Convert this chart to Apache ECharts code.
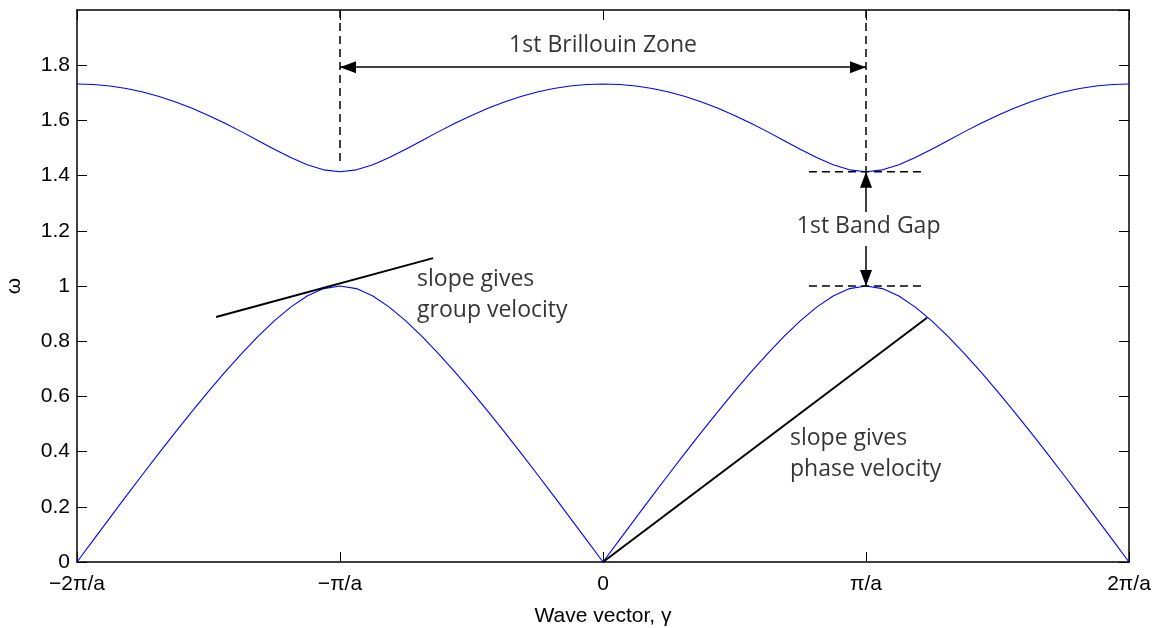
<!DOCTYPE html>
<html>
<head>
<meta charset="utf-8">
<title>Dispersion relation of a diatomic chain</title>
<script src="https://cdn.jsdelivr.net/npm/echarts@6/dist/echarts.min.js"></script>
<style>
  html, body { margin: 0; padding: 0; background: #ffffff; }
  #chart { width: 1161px; height: 628px; }
</style>
</head>
<body>
<div id="chart"></div>
<script>
// Wave vector samples, in units of pi/a
const waveVector = [
  -2, -1.9375, -1.875, -1.8125, -1.75, -1.6875, -1.625, -1.5625, -1.5, -1.4375, -1.375, -1.3125, -1.25, -1.1875, -1.125, -1.0625,
  -1, -0.9375, -0.875, -0.8125, -0.75, -0.6875, -0.625, -0.5625, -0.5, -0.4375, -0.375, -0.3125, -0.25, -0.1875, -0.125, -0.0625,
  0, 0.0625, 0.125, 0.1875, 0.25, 0.3125, 0.375, 0.4375, 0.5, 0.5625, 0.625, 0.6875, 0.75, 0.8125, 0.875, 0.9375,
  1, 1.0625, 1.125, 1.1875, 1.25, 1.3125, 1.375, 1.4375, 1.5, 1.5625, 1.625, 1.6875, 1.75, 1.8125, 1.875, 1.9375, 2
];

// Lower (acoustic) branch, omega
const acousticBranch = [
  0, 0.0801, 0.1600, 0.2393, 0.3179, 0.3953, 0.4714, 0.5458, 0.6180, 0.6877, 0.7541, 0.8165, 0.8736, 0.9236, 0.9638, 0.9905,
  1.0, 0.9905, 0.9638, 0.9236, 0.8736, 0.8165, 0.7541, 0.6877, 0.6180, 0.5458, 0.4714, 0.3953, 0.3179, 0.2393, 0.1600, 0.0801,
  0, 0.0801, 0.1600, 0.2393, 0.3179, 0.3953, 0.4714, 0.5458, 0.6180, 0.6877, 0.7541, 0.8165, 0.8736, 0.9236, 0.9638, 0.9905,
  1.0, 0.9905, 0.9638, 0.9236, 0.8736, 0.8165, 0.7541, 0.6877, 0.6180, 0.5458, 0.4714, 0.3953, 0.3179, 0.2393, 0.1600, 0.0801, 0
];

// Upper (optical) branch, omega
const opticalBranch = [
  1.7321, 1.7302, 1.7247, 1.7154, 1.7026, 1.6863, 1.6667, 1.6438, 1.6180, 1.5897, 1.5593, 1.5275, 1.4956, 1.4652, 1.4391, 1.4209,
  1.4142, 1.4209, 1.4391, 1.4652, 1.4956, 1.5275, 1.5593, 1.5897, 1.6180, 1.6438, 1.6667, 1.6863, 1.7026, 1.7154, 1.7247, 1.7302,
  1.7321, 1.7302, 1.7247, 1.7154, 1.7026, 1.6863, 1.6667, 1.6438, 1.6180, 1.5897, 1.5593, 1.5275, 1.4956, 1.4652, 1.4391, 1.4209,
  1.4142, 1.4209, 1.4391, 1.4652, 1.4956, 1.5275, 1.5593, 1.5897, 1.6180, 1.6438, 1.6667, 1.6863, 1.7026, 1.7154, 1.7247, 1.7302, 1.7321
];

// Wave-vector tick positions and their labels
const xTickValues = [-2, -1, 0, 1, 2];
const xTickLabels = ['\u22122\u03c0/a', '\u2212\u03c0/a', '0', '\u03c0/a', '2\u03c0/a'];

// Annotation geometry, in (k in pi/a, omega)
const zoneEdgeLeft = [[-1, 2], [-1, 1.45]];
const zoneEdgeRight = [[1, 2], [1, 1.414]];
const gapTopLevel = [[0.783, 1.414], [1.213, 1.414]];
const gapBottomLevel = [[0.783, 1.0], [1.213, 1.0]];
const groupTangent = [[-1.471, 0.888], [-0.646, 1.101]];
const phaseChord = [[0, 0], [1.232, 0.885]];
const zoneArrow = [[-1, 1.793], [1, 1.793]];
const gapArrowUp = [[1, 1.268], [1, 1.414]];
const gapArrowDown = [[1, 1.145], [1, 1.0]];

// Text annotations: [k, omega, text]
const zoneText = [0, 1.873, '1st Brillouin Zone'];
const gapText = [1.01, 1.214, '1st Band Gap'];
const groupText = [-0.707, 0.967, 'slope gives\ngroup velocity'];
const phaseText = [0.711, 0.391, 'slope gives\nphase velocity'];

const chart = echarts.init(document.getElementById('chart'), null, { renderer: 'canvas' });

const frameLine = { show: true, onZero: false, lineStyle: { color: '#000', width: 1.5 } };
const innerTick = { show: true, inside: true, length: 10, lineStyle: { color: '#000', width: 1 } };
const tickFont = { fontFamily: 'Liberation Sans', fontSize: 21, color: '#000' };
const noteStyle = { fontFamily: 'Open Sans', fontSize: 23, color: '#000', lineHeight: 31 };

function pairsToData(pts) { return pts.map(p => [p[0], p[1]]); }

function straight(pts, style) {
  return {
    type: 'line', data: pairsToData(pts), showSymbol: false, symbol: 'none',
    silent: true, animation: false, z: 3,
    lineStyle: Object.assign({ color: '#000', width: 2 }, style)
  };
}

function arrow(pts, both) {
  return {
    type: 'line', data: [], silent: true, animation: false, z: 4,
    markLine: {
      silent: true, animation: false,
      symbol: both ? ['triangle', 'triangle'] : ['none', 'triangle'],
      symbolSize: [12, 16],
      symbolOffset: [[0, 8], [0, 8]],
      label: { show: false },
      lineStyle: { color: '#000', width: 1.5, type: 'solid' },
      itemStyle: { color: '#000' },
      emphasis: { disabled: true },
      data: [[{ coord: pts[0] }, { coord: pts[1] }]]
    }
  };
}

function note(t, pos, align) {
  return {
    type: 'scatter', symbolSize: 0, silent: true, animation: false, z: 6,
    itemStyle: { color: '#000' },
    data: [[t[0], t[1]]],
    label: {
      show: true, position: pos, distance: 0, align: align,
      formatter: () => t[2].split('\n').map(s => '{n|' + s + '}').join('\n'),
      rich: { n: noteStyle }
    }
  };
}

const option = {
  backgroundColor: '#fff',
  animation: false,
  grid: { left: 77, right: 32, top: 10, bottom: 66, containLabel: false, outerBoundsMode: 'none' },
  xAxis: [
    {
      type: 'value', min: -2, max: 2, interval: 1, position: 'bottom',
      name: 'Wave vector, \u03b3', nameLocation: 'middle', nameGap: 44,
      nameTextStyle: { fontFamily: 'Liberation Sans', fontSize: 21, color: '#000' },
      axisLine: frameLine, axisTick: innerTick, splitLine: { show: false },
      axisLabel: Object.assign({
        margin: 12,
        formatter: v => { const i = xTickValues.indexOf(v); return i < 0 ? '' : xTickLabels[i]; }
      }, tickFont)
    },
    {
      type: 'value', min: -2, max: 2, interval: 1, position: 'top',
      axisLine: frameLine, axisTick: innerTick, splitLine: { show: false },
      axisLabel: { show: false }
    }
  ],
  yAxis: [
    {
      type: 'value', min: 0, max: 2, interval: 0.2, position: 'left',
      name: '\u03c9', nameLocation: 'middle', nameGap: 52, nameRotate: 90,
      nameTextStyle: { fontFamily: 'Liberation Sans', fontSize: 21, color: '#000' },
      axisLine: frameLine, axisTick: innerTick, splitLine: { show: false },
      axisLabel: Object.assign({ margin: 7, showMaxLabel: false }, tickFont)
    },
    {
      type: 'value', min: 0, max: 2, interval: 0.2, position: 'right',
      axisLine: frameLine, axisTick: innerTick, splitLine: { show: false },
      axisLabel: { show: false }
    }
  ],
  series: [
    {
      name: 'acoustic', type: 'line', showSymbol: false, symbol: 'none', silent: true, z: 2,
      data: waveVector.map((k, i) => [k, acousticBranch[i]]),
      lineStyle: { color: '#0000ff', width: 1.1 }
    },
    {
      name: 'optical', type: 'line', showSymbol: false, symbol: 'none', silent: true, z: 2,
      data: waveVector.map((k, i) => [k, opticalBranch[i]]),
      lineStyle: { color: '#0000ff', width: 1.1 }
    },
    straight(zoneEdgeLeft, { width: 1.5, type: [8, 5] }),
    straight(zoneEdgeRight, { width: 1.5, type: [8, 5] }),
    straight(gapTopLevel, { width: 1.5, type: [8, 5] }),
    straight(gapBottomLevel, { width: 1.5, type: [8, 5] }),
    straight(groupTangent, { width: 2 }),
    straight(phaseChord, { width: 2 }),
    arrow(zoneArrow, true),
    arrow(gapArrowUp, false),
    arrow(gapArrowDown, false),
    note(zoneText, 'inside', 'center'),
    note(gapText, 'inside', 'center'),
    note(groupText, 'right', 'left'),
    note(phaseText, 'right', 'left')
  ]
};

chart.setOption(option);
</script>
</body>
</html>
